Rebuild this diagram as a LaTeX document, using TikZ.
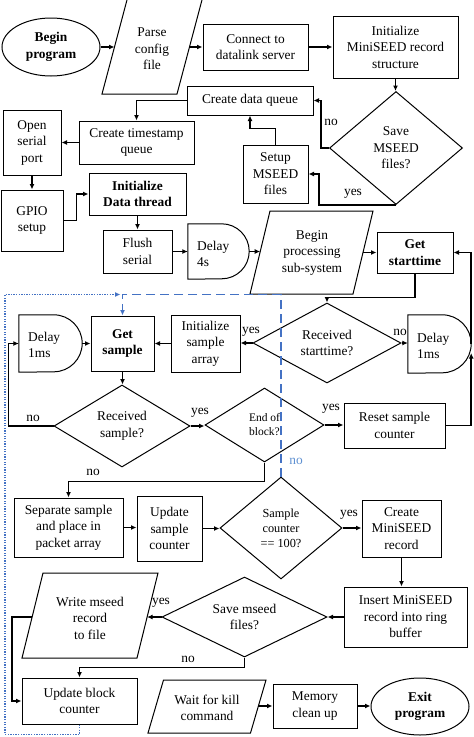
\documentclass[tikz,border=0pt]{standalone}
\usepackage{fontspec}
\setmainfont{Liberation Serif}
\usetikzlibrary{shapes.geometric,arrows.meta,calc}
\definecolor{lineblue}{RGB}{68,114,196}
\definecolor{labelblue}{RGB}{95,145,210}
\newcommand\fsN{\fontsize{13.4}{16.5}\selectfont}
\newcommand\fsS{\fontsize{11.5}{14}\selectfont}
\newcommand\fsM{\fontsize{12.3}{15}\selectfont}
\newcommand\delayD[2]{\draw[shp] (#1.north west) -- ($(#1.north east)+(-#2,0)$) arc[start angle=90,end angle=-90,radius=#2 pt] -- (#1.south west) -- cycle;}
\begin{document}
\begin{tikzpicture}[x=1pt,y=-1pt,
  shp/.style={draw, line width=1pt},
  box/.style={shp, rectangle, inner sep=0pt, align=center, font=\fsN},
  ell/.style={shp, ellipse, inner sep=0pt, align=center, font=\fsN\bfseries},
  dia/.style={shp, diamond, inner sep=0pt, align=center, font=\fsN},
  txt/.style={inner sep=0pt, align=center, font=\fsN},
  hold/.style={inner sep=0pt},
  lbl/.style={inner sep=0pt, font=\fsN},
  conn/.style={line width=1.6pt, -{Latex[length=5.5pt,width=5pt]}},
  blueconn/.style={line width=1.4pt, draw=lineblue, dash pattern=on 9pt off 5pt, -{Latex[length=5.5pt,width=5pt]}},
  bluedot/.style={line width=1.6pt, draw=lineblue, dash pattern=on 1.3pt off 1.3pt, -{Latex[length=5.5pt,width=5pt]}}]
\useasboundingbox (0,0) rectangle (474,737);
\fill[white] (0,0) rectangle (474,737);

% --- top part
\node[ell, minimum width=98pt, minimum height=58pt] (begin) at (51,47) {Begin\\program};
\draw[shp] (102,94) -- (127.5,-2) -- (202.5,-2) -- (177,94) -- cycle;
\node[txt] (parse) at (152,49) {Parse\\config\\file};
\coordinate (parseL) at (114.5,47);
\coordinate (parseR) at (189.5,47);
\node[box, minimum width=105pt, minimum height=46pt] (connect) at (255.5,47) {Connect to\\datalink server};
\node[box, minimum width=125pt, minimum height=62pt] (initms) at (395.5,47) {Initialize\\MiniSEED record\\structure};
\node[dia, aspect=1.18, minimum width=133pt, minimum height=113pt] (savems) at (396,148) {Save\\MSEED\\files?};
\node[box, minimum width=126pt, minimum height=29pt] (cdq) at (250,100.5) {Create data queue};
\node[box, minimum width=65pt, minimum height=58pt] (setup) at (275.5,174) {Setup\\MSEED\\files};
\node[box, minimum width=115pt, minimum height=43pt] (cts) at (136.5,142.5) {Create timestamp\\queue};
\node[box, minimum width=58pt, minimum height=65pt] (osp) at (32,142.5) {Open\\serial\\port};
\node[box, minimum width=62pt, minimum height=61pt] (gpio) at (32,220.5) {GPIO\\setup};
\node[box, font=\fsN\bfseries, minimum width=97pt, minimum height=42pt] (idt) at (137.5,194) {Initialize\\Data thread};
\node[box, minimum width=69pt, minimum height=43pt] (flush) at (137.5,251.5) {Flush\\serial};
\node[hold, minimum width=61pt, minimum height=55pt] (d4) at (218.5,251.5) {};
\delayD{d4}{27.5}
\node[txt, align=left, anchor=west] (d4t) at (197,254) {Delay\\4s};
\draw[shp] (250,294) -- (270,211) -- (373,211) -- (353,294) -- cycle;
\node[txt] (bps) at (312,253) {Begin\\processing\\sub-system};
\coordinate (bpsL) at (260.2,251.5);
\coordinate (bpsR) at (363,252.5);
\node[box, font=\fsN\bfseries, minimum width=76pt, minimum height=41pt] (gst) at (415,252.5) {Get\\starttime};

% --- middle part
\node[dia, aspect=1.85, minimum width=148pt, minimum height=80pt] (rst) at (327,343) {Received\\starttime?};
\node[hold, minimum width=63pt, minimum height=58pt] (d1r) at (439.5,344) {};
\delayD{d1r}{29}
\node[txt, align=left, anchor=west] (d1rt) at (417,346) {Delay\\1ms};
\node[hold, minimum width=63pt, minimum height=57pt] (d1l) at (50.5,343.5) {};
\delayD{d1l}{28.5}
\node[txt, align=left, anchor=west] (d1lt) at (28,345) {Delay\\1ms};
\node[box, font=\fsN\bfseries, minimum width=63pt, minimum height=55pt] (gs) at (122.5,343.5) {Get\\sample};
\node[box, minimum width=69pt, minimum height=57pt] (isa) at (205.5,343.5) {Initialize\\sample\\array};
\node[dia, aspect=1.66, minimum width=136pt, minimum height=82pt] (rs) at (122,426) {Received\\sample?};
\node[dia, aspect=1.6, font=\fsS, minimum width=119pt, minimum height=74pt] (eob) at (264.5,425) {End of\\block?};
\node[box, minimum width=101pt, minimum height=45pt] (rsc) at (394.5,425.5) {Reset sample\\counter};
\node[box, minimum width=109pt, minimum height=59pt] (ssp) at (68.5,527.5) {Separate sample\\and place in\\packet array};
\node[box, minimum width=65pt, minimum height=65pt] (usc) at (169.5,528.5) {Update\\sample\\counter};
\node[dia, aspect=1.2, font=\fsM, minimum width=122pt, minimum height=102pt] (sc) at (281,528) {Sample\\counter\\== 100?};
\node[box, minimum width=79pt, minimum height=57pt] (cms) at (401.5,528.5) {Create\\MiniSEED\\record};

% --- bottom part
\node[box, minimum width=123pt, minimum height=60pt] (ims) at (405.5,617) {Insert MiniSEED\\record into ring\\buffer};
\node[dia, aspect=2.06, minimum width=165pt, minimum height=80pt] (smf) at (244.5,617) {Save mseed\\files?};
\draw[shp] (22,658) -- (43,573) -- (158,573) -- (137,658) -- cycle;
\node[txt] (wmr) at (90,618) {Write mseed\\record\\to file};
\coordinate (wmrL) at (32.1,617);
\coordinate (wmrR) at (147.1,617);
\node[box, minimum width=115pt, minimum height=46pt] (ubc) at (79.5,701) {Update block\\counter};
\draw[shp] (148,733) -- (163.5,680) -- (266,680) -- (250.5,733) -- cycle;
\node[txt] (wfk) at (207,708) {Wait for kill\\command};
\coordinate (wfkR) at (258.4,706);
\node[box, minimum width=84pt, minimum height=44pt] (mcu) at (315,706) {Memory\\clean up};
\node[ell, minimum width=98pt, minimum height=57pt] (exit) at (420,706.5) {Exit\\program};

% --- connectors
\draw[conn] (begin.east) -- (parseL);
\draw[conn] (parseR) -- (connect.west);
\draw[conn] (connect.east) -- (initms.west);
\draw[conn] (initms.south) -- (initms.south |- savems.north);
\draw[conn] (savems.west) -- ++(-8,0) |- (cdq.east);
\draw[conn] (savems.south) -- ++(-77,0) |- (setup.east);
\draw[conn] (setup.north) -- ++(0,-16) -| (cdq.south);
\draw[conn] (cdq.west) -| (cts.north);
\draw[conn] (cts.west) -- (osp.east);
\draw[conn] (osp.south) -- (gpio.north);
\draw[conn] (gpio.east) -- ++(13,0) |- (idt.west);
\draw[conn] (idt.south) -- (flush.north);
\draw[conn] (flush.east) -- (d4.west);
\draw[conn] (d4.east) -- (bpsL);
\draw[conn] (bpsR) -- (gst.west);
\draw[conn] (gst.south) -- ++(0,24) -| (rst.north);
\draw[conn] (rst.west) -- (rst.west -| isa.east);
\draw[conn] (rst.east) -- (rst.east -| d1r.west);
\draw[conn] (d1r.east) |- (gst.east);
\draw[conn] (rsc.east) -| ($(d1r.east)+(0,9)$);
\draw[conn] (gs.south) -- (gs.south |- rs.north);
\draw[conn] (rs.west) -- ++(-45,0) |- (d1l.west);
\draw[conn] (d1l.east) -- (gs.west);
\draw[conn] (isa.west) -- (gs.east);
\draw[conn] (rs.east) -- (rs.east -| eob.west);
\draw[conn] (eob.east) -- (eob.east -| rsc.west);
\draw[conn] (eob.south) -- ++(0,19) -| (ssp.north);
\draw[conn] (ssp.east) -- (ssp.east -| usc.west);
\draw[conn] (usc.east) -- (usc.east -| sc.west);
\draw[conn] (sc.east) -- (sc.east -| cms.west);
\draw[conn] (cms.south) -- (cms.south |- ims.north);
\draw[conn] (ims.west) -- (smf.east);
\draw[conn] (smf.west) -- (wmrR);
\draw[conn] (wmrL) -- ++(-20,0) |- (ubc.west);
\draw[conn] (smf.south) -- ++(0,10) -| (ubc.north);
\draw[conn] (wfkR) -- (mcu.west);
\draw[conn] (mcu.east) -- (mcu.east -| exit.west);

% --- blue edits
\coordinate (bluecorner) at (122.5,294.5);
\draw[blueconn] (sc.north) -- (sc.north |- bluecorner) -- (bluecorner) -- (gs.north);
\draw[bluedot] (ubc.south) -- ++(0,10) -| (5,294.5) -- ($(bluecorner)+(-2,0)$);

% --- labels
\node[lbl] (l1) at (331,122) {no};
\node[lbl] (l2) at (353,194) {yes};
\node[lbl] (l3) at (251,332) {yes};
\node[lbl] (l4) at (400,332) {no};
\node[lbl] (l5) at (33,418) {no};
\node[lbl] (l6) at (200,413) {yes};
\node[lbl] (l7) at (331,409) {yes};
\node[lbl] (l8) at (93,472) {no};
\node[lbl, text=labelblue] (l9) at (296,461) {no};
\node[lbl] (l10) at (349,515) {yes};
\node[lbl] (l11) at (161,603) {yes};
\node[lbl] (l12) at (188,659) {no};
\end{tikzpicture}
\end{document}
